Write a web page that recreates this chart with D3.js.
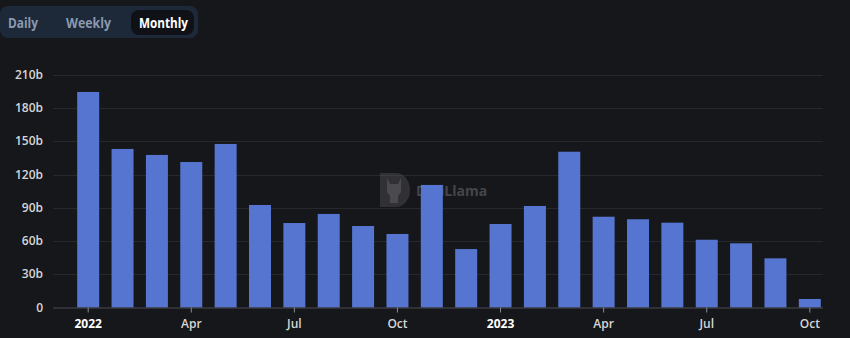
<!DOCTYPE html>
<html>
<head>
<meta charset="utf-8">
<script src="https://cdn.jsdelivr.net/npm/d3@7"></script>
<style>
  html, body { margin: 0; padding: 0; background: #16171b; }
  svg { display: block; font-family: "Open Sans", "Noto Sans", sans-serif; }
</style>
</head>
<body>
<svg id="chart" width="850" height="338"></svg>
<script>
const months = ["2022-01", "2022-02", "2022-03", "2022-04", "2022-05", "2022-06",
    "2022-07", "2022-08", "2022-09", "2022-10", "2022-11", "2022-12",
    "2023-01", "2023-02", "2023-03", "2023-04", "2023-05", "2023-06",
    "2023-07", "2023-08", "2023-09", "2023-10"];
// monthly volume, billions
const volumes = [194.7, 143.2, 137.8, 131.4, 147.7, 92.6, 76.3, 84.5, 73.6, 66.4, 110.7, 52.8,
    75.4, 91.7, 140.7, 82.0, 79.7, 76.6, 61.2, 58.0, 44.4, 7.7];
const xTickLabels = {"2022-01": "2022", "2022-04": "Apr", "2022-07": "Jul", "2022-10": "Oct",
    "2023-01": "2023", "2023-04": "Apr", "2023-07": "Jul", "2023-10": "Oct"};
const yTicks = [0, 30, 60, 90, 120, 150, 180, 210];
const toggles = ["Daily", "Weekly", "Monthly"];

const svg = d3.select("#chart");

// period toggle
const tg = svg.append("g");
tg.append("rect")
    .attr("x", 0).attr("y", 6).attr("width", 198).attr("height", 32)
    .attr("rx", 8).attr("fill", "#1d2939");
tg.append("rect")
    .attr("x", 131).attr("y", 10).attr("width", 63).attr("height", 25)
    .attr("rx", 8).attr("fill", "#0f1116");
const togX = [8, 66, 139];
const togW = [30, 45, 49];
tg.selectAll("text.tog").data(toggles).join("text")
    .attr("class", "tog")
    .attr("x", (d, i) => togX[i])
    .attr("y", 27.5)
    .attr("font-size", 13.5)
    .attr("font-weight", 700)
    .attr("textLength", (d, i) => togW[i])
    .attr("lengthAdjust", "spacingAndGlyphs")
    .attr("fill", (d, i) => i === 2 ? "#ffffff" : "#8a9ab0")
    .text((d) => d);

const x = d3.scaleBand()
    .domain(months)
    .range([71, 827])
    .paddingInner(0.36)
    .paddingOuter(0.18);
const y = d3.scaleLinear()
    .domain([0, 210])
    .range([307.5, 75]);

const gridLeft = 53, gridRight = 823;

// grid lines
svg.append("g").selectAll("line").data(yTicks.slice(1)).join("line")
    .attr("x1", gridLeft).attr("x2", gridRight)
    .attr("y1", (d) => Math.round(y(d)) + 0.5)
    .attr("y2", (d) => Math.round(y(d)) + 0.5)
    .attr("stroke", "#26282e")
    .attr("stroke-width", 1);

// y labels
svg.append("g").selectAll("text").data(yTicks).join("text")
    .attr("x", 43)
    .attr("y", (d) => y(d) + 4)
    .attr("text-anchor", "end")
    .attr("font-size", 12)
    .attr("font-weight", 600)
    .attr("fill", "#d6d6d6")
    .text((d) => d === 0 ? "0" : d + "b");

// watermark
const wm = svg.append("g").attr("opacity", 0.4);
wm.append("path")
    .attr("d", "M380,173 h16 a14,17 0 0 1 0,34 h-16 z")
    .attr("fill", "#5a5a5e");
wm.append("path")
    .attr("d", "M387,178 l3,6 h8 l3,-6 v14 l-3,4 v7 h-8 v-7 l-3,-4 z")
    .attr("fill", "#9a9a9e");
wm.append("text")
    .attr("x", 416).attr("y", 196)
    .attr("font-size", 14).attr("font-weight", 700)
    .attr("fill", "#8a8a8e")
    .text("DefiLlama");

// bars
svg.append("g").selectAll("rect").data(months).join("rect")
    .attr("x", (d) => x(d))
    .attr("width", x.bandwidth())
    .attr("y", (d, i) => y(volumes[i]))
    .attr("height", (d, i) => y(0) - y(volumes[i]))
    .attr("fill", "#5675d0");

// x axis
const xAxis = svg.append("g")
    .attr("transform", `translate(0, ${y(0)})`)
    .call(d3.axisBottom(x)
        .tickValues(Object.keys(xTickLabels))
        .tickFormat((d) => xTickLabels[d])
        .tickSize(5)
        .tickSizeOuter(0));
xAxis.select(".domain")
    .attr("d", `M${gridLeft},0.5H${gridRight}`)
    .attr("stroke", "#4a4c52");
xAxis.selectAll(".tick line").attr("stroke", "#8a8c92");
xAxis.selectAll(".tick text")
    .attr("dy", "1.05em")
    .attr("font-family", "'Open Sans', 'Noto Sans', sans-serif")
    .attr("font-size", 12)
    .attr("font-weight", (d) => /^\d{4}$/.test(xTickLabels[d]) ? 700 : 600)
    .attr("fill", (d) => /^\d{4}$/.test(xTickLabels[d]) ? "#ffffff" : "#d6d6d6");
</script>
</body>
</html>
